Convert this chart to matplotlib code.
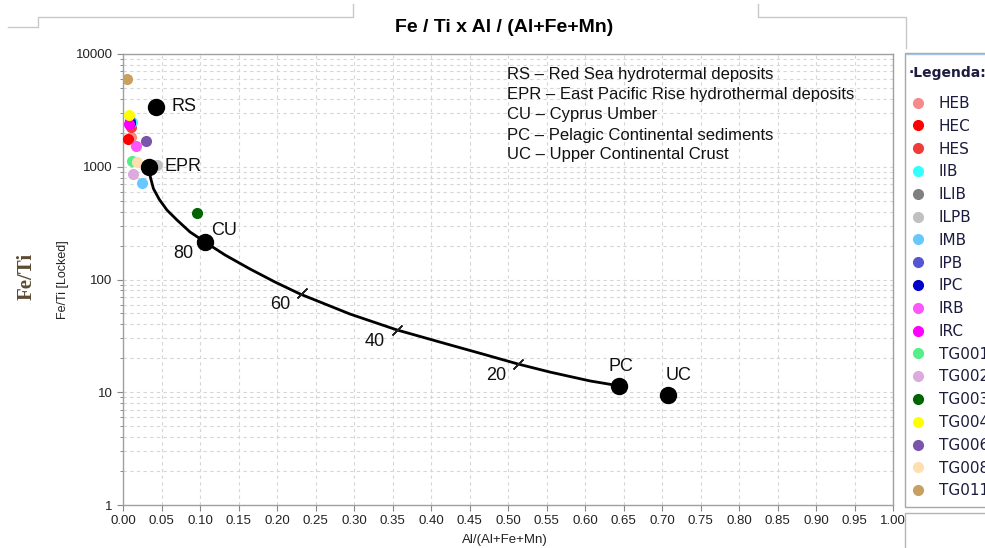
import numpy as np
import matplotlib
matplotlib.use("Agg")
import matplotlib.pyplot as plt
from matplotlib.lines import Line2D
from matplotlib.patches import Rectangle

plt.rcParams['font.family'] = ['Liberation Sans', 'DejaVu Sans']

# ---- data -------------------------------------------------------------
# reference end-members
ref_names = ["RS", "EPR", "CU", "PC", "UC"]
ref_x = [0.043, 0.034, 0.106, 0.644, 0.708]
ref_y = [3400, 1000, 215, 11.4, 9.5]

# hydrothermal / pelagic mixing curve
curve_x = [0.034, 0.0355, 0.0395, 0.047, 0.0571, 0.0701, 0.087, 0.1065, 0.1325,
           0.1649, 0.1974, 0.2299, 0.2948, 0.3558, 0.4247, 0.4675, 0.513,
           0.5545, 0.6065, 0.6442]
curve_y = [1000, 811, 640, 515, 413, 337, 264, 215, 165, 124, 95, 74.4, 49.4,
           35.7, 26.3, 21.8, 17.8, 15.1, 12.6, 11.4]

# percentage marks along the mixing curve
mix_pct = ["80", "60", "40", "20"]
mix_x = [0.1065, 0.2325, 0.3558, 0.513]
mix_y = [215, 75.9, 35.6, 17.8]

# samples
sample_names = ["HEB", "HEC", "HES", "IIB", "ILIB", "ILPB", "IMB", "IPB", "IPC",
                "IRB", "IRC", "TG001", "TG002", "TG003", "TG004", "TG006",
                "TG008", "TG011"]
sample_x = [0.0104, 0.0069, 0.010, 0.0113, 0.036, 0.0438, 0.0243, 0.009, 0.009,
            0.0165, 0.0078, 0.0113, 0.0134, 0.0961, 0.0078, 0.0295, 0.0186, 0.0048]
sample_y = [1847, 1762, 2240, 2480, 1000, 1036, 722, 2550, 2450,
            1530, 2400, 1132, 857, 389, 2850, 1700, 1102, 6000]
sample_colors = ["#f58a8a", "#ff0000", "#f23a3a", "#33ffff", "#808080", "#c0c0c0",
                 "#66c8ff", "#5555d5", "#0000c8", "#ff55ff", "#ff00ff", "#55ee88",
                 "#ddaadd", "#006400", "#ffff00", "#7a55aa", "#ffdeb0", "#c8a060"]

legend_lines = ["RS – Red Sea hydrotermal deposits",
                "EPR – East Pacific Rise hydrothermal deposits",
                "CU – Cyprus Umber",
                "PC – Pelagic Continental sediments",
                "UC – Upper Continental Crust"]

x_ticks = np.round(np.arange(0, 1.0001, 0.05), 2)
y_ticks = [1, 10, 100, 1000, 10000]
y_ticklabels = ["1", "10", "100", "1000", "10000"]

# ---- figure -----------------------------------------------------------
W, H = 985, 548
fig = plt.figure(figsize=(W / 100, H / 100), dpi=100)


def fx(px):
    return px / W


def fy(py):
    return 1 - py / H


ax = fig.add_axes([fx(123), fy(505), fx(893) - fx(123), fy(54) - fy(505)])
ax.set_yscale('log')
ax.set_xlim(0, 1)
ax.set_ylim(1, 10000)
ax.set_xticks(x_ticks)
ax.set_xticklabels([f"{v:.2f}" for v in x_ticks])
ax.set_yticks(y_ticks)
ax.set_yticklabels(y_ticklabels)
ax.tick_params(axis='both', which='major', labelsize=9.5, colors='#222222',
               length=4, width=0.8, direction='out')
ax.tick_params(axis='y', which='minor', length=2.5, width=0.7, color='#888888')
ax.tick_params(axis='both', which='major', color='#888888')
for s in ax.spines.values():
    s.set_color('#a0a0a0')
    s.set_linewidth(1)

ax.grid(True, which='major', axis='both', ls=(0, (3, 3)), color='#d6d6d6', lw=0.8)
ax.grid(True, which='minor', axis='y', ls=(0, (3, 3)), color='#d6d6d6', lw=0.8)
ax.set_axisbelow(True)

# samples
handles = []
for name, x, y, c in zip(sample_names, sample_x, sample_y, sample_colors):
    h, = ax.plot([x], [y], 'o', ms=7, color=c, mec=c, label=name, zorder=3)
    handles.append(h)

# mixing curve and its marks
ax.plot(curve_x, curve_y, color='black', lw=2, zorder=4)
ax.plot(mix_x, mix_y, ls='none', marker=(2, 2, -45), ms=10, mec='#222222',
        mew=1, zorder=4)
for lab, x, y in zip(mix_pct, mix_x, mix_y):
    ax.annotate(lab, (x, y), xytext=(-22, -11), textcoords='offset pixels',
                ha='center', va='center', fontsize=13, color='#111111', zorder=6)

# reference end-members
ax.plot(ref_x, ref_y, 'o', ms=11.5, color='black', zorder=5)
ref_offsets = {"RS": (15, 0, 'left'), "EPR": (15, 0, 'left'), "CU": (7, 12, 'left'),
               "PC": (2, 19, 'center'), "UC": (10, 19, 'center')}
for name, x, y in zip(ref_names, ref_x, ref_y):
    dx, dy, ha = ref_offsets[name]
    ax.annotate(name, (x, y), xytext=(dx, dy), textcoords='offset pixels',
                ha=ha, va='center', fontsize=13, color='#111111', zorder=6)

# key to the abbreviations
for i, line in enumerate(legend_lines):
    fig.text(fx(507), fy(75 + 20 * i), line, ha='left', va='center',
             fontsize=12, color='#111111')

# titles and axis labels
fig.text(fx(504), fy(28), "Fe / Ti x Al / (Al+Fe+Mn)", ha='center', va='center',
         fontsize=14, fontweight='bold')
fig.text(fx(505), fy(540), "Al/(Al+Fe+Mn)", ha='center', va='center', fontsize=9.5,
         color='#222222')
fig.text(fx(63), fy(280), "Fe/Ti [Locked]", ha='center', va='center', rotation=90,
         fontsize=9, color='#222222')
fig.text(fx(27), fy(276), "Fe/Ti", ha='center', va='center', rotation=90,
         fontsize=15, fontweight='bold', family='Liberation Serif', color='#5c4a32')

# window frame lines
frame_color = '#c8c8c8'
for xs, ys in [([8, 38, 38, 353, 353], [27, 27, 17, 17, 4]),
               ([758, 758, 906, 906], [4, 17, 17, 48])]:
    fig.add_artist(Line2D([fx(v) for v in xs], [fy(v) for v in ys],
                          transform=fig.transFigure, color=frame_color, lw=1))

# legend panel
fig.add_artist(Rectangle((fx(905), fy(507)), fx(1000) - fx(905), fy(53) - fy(507),
                         transform=fig.transFigure, facecolor='white',
                         edgecolor='#a8a8a8', lw=1, zorder=5))
fig.add_artist(Line2D([fx(906), fx(1000)], [fy(54), fy(54)],
                      transform=fig.transFigure, color='#a8c4e4', lw=1, zorder=6))
fig.text(fx(909), fy(73), "·Legenda:", ha='left', va='center', fontsize=10,
         fontweight='bold', family='DejaVu Sans', color='#1c1c40', zorder=7)
leg = fig.legend(handles, sample_names, loc='upper left',
                 bbox_to_anchor=(fx(910.4), fy(96)), bbox_transform=fig.transFigure,
                 frameon=False, borderpad=0, borderaxespad=0, handlelength=1.0,
                 handletextpad=0.87, labelspacing=0.51,
                 prop={'family': 'DejaVu Sans', 'size': 11}, labelcolor='#1c1c40')
leg.set_zorder(8)

# lower panel below the legend
fig.add_artist(Rectangle((fx(905), fy(560)), fx(1000) - fx(905), fy(513) - fy(560),
                         transform=fig.transFigure, facecolor='white',
                         edgecolor='#b4b4b4', lw=1, zorder=5))

fig.savefig("out.png", dpi=100)
